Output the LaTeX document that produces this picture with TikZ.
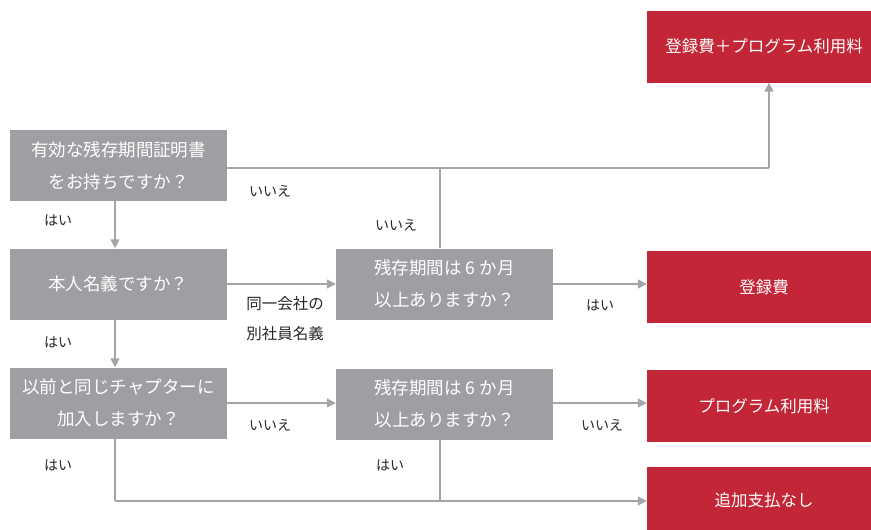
\documentclass[tikz,border=0pt]{standalone}
\usepackage{fontspec}
\setmainfont{Noto Sans CJK JP}
\usetikzlibrary{arrows.meta}
\definecolor{qgray}{RGB}{157,159,162}
\definecolor{ared}{RGB}{194,38,55}
\definecolor{lgray}{RGB}{163,165,168}
\begin{document}
\begin{tikzpicture}[x=1pt,y=1pt,
  qbox/.style={fill=qgray, text=white, minimum width=217pt, minimum height=71pt, align=center, font=\fontsize{17.5}{32}\selectfont, inner sep=0pt},
  rbox/.style={fill=ared, text=white, minimum width=234pt, minimum height=72pt, font=\fontsize{16.5}{20}\selectfont, inner sep=0pt},
  conn/.style={draw=lgray, line width=1.6pt, -{Triangle[length=9pt,width=9pt]}},
  plainline/.style={draw=lgray, line width=1.6pt},
  lab/.style={font=\fontsize{14}{17}\selectfont, text=black!85, align=center, inner sep=0pt}]
\useasboundingbox (0,0) rectangle (871,-530);
% question boxes
\node[qbox] (q1) at (118.5,-165.5) {有効な残存期間証明書\\をお持ちですか？};
\node[qbox] (q2) at (118.5,-284) {本人名義ですか？};
\node[qbox] (q4) at (118.5,-403) {以前と同じチャプターに\\加入しますか？};
\node[qbox] (q3) at (444.5,-284) {残存期間は 6 か月\\以上ありますか？};
\node[qbox] (q5) at (444.5,-404) {残存期間は 6 か月\\以上ありますか？};
% result boxes
\node[rbox] (r1) at (764,-46.5) {登録費＋プログラム利用料};
\node[rbox] (r2) at (764,-287) {登録費};
\node[rbox] (r3) at (764,-406) {プログラム利用料};
\node[rbox, minimum height=66pt] (r4) at (764,-500) {追加支払なし};
% junction coordinates
\coordinate (j1) at (769,-168);
\coordinate (j2) at (440,-168);
\coordinate (j3) at (115,-501);
\coordinate (j4) at (440,-501);
% connectors
\draw[plainline] (q1.east |- j1) -- (j1);
\draw[conn] (j1) -- (j1 |- r1.south);
\draw[plainline] (j2 |- q3.north) -- (j2);
\draw[conn] ([xshift=-3.5pt]q1.south) -- ([xshift=-3.5pt]q2.north);
\draw[conn] ([xshift=-3.5pt]q2.south) -- ([xshift=-3.5pt]q4.north);
\draw[conn] (q2.east) -- (q3.west);
\draw[conn] (q3.east) -- (r2.west |- q3.east);
\draw[conn] (q4.east) -- (q5.west |- q4.east);
\draw[conn] (q5.east |- q4.east) -- (r3.west |- q4.east);
\draw[plainline] ([xshift=-3.5pt]q4.south) -- (j3);
\draw[conn] (j3) -- (r4.west |- j3);
\draw[plainline] (j4 |- q5.south) -- (j4);
% labels
\node[lab] (l1) at (270,-191) {いいえ};
\node[lab] (l2) at (396,-225) {いいえ};
\node[lab] (l3) at (58,-220) {はい};
\node[lab, font=\fontsize{15.5}{30}\selectfont] (l4) at (285,-319) {同一会社の\\別社員名義};
\node[lab] (l5) at (600,-305) {はい};
\node[lab] (l6) at (58,-342) {はい};
\node[lab] (l7) at (270,-425) {いいえ};
\node[lab] (l8) at (602,-425) {いいえ};
\node[lab] (l9) at (58,-465) {はい};
\node[lab] (l10) at (390,-465) {はい};
\end{tikzpicture}
\end{document}
